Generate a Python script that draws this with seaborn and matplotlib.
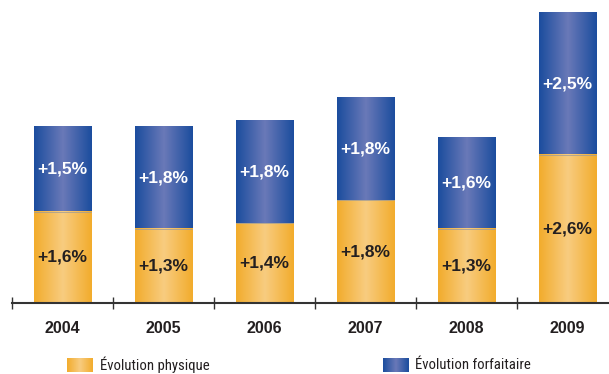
import numpy as np
import pandas as pd
import matplotlib
matplotlib.use("Agg")
import matplotlib.pyplot as plt
import seaborn as sns
from matplotlib.colors import LinearSegmentedColormap
from matplotlib.ticker import FixedLocator
from matplotlib import font_manager

# Data
annees = ["2004", "2005", "2006", "2007", "2008", "2009"]
physique = [1.6, 1.3, 1.4, 1.8, 1.3, 2.6]
forfaitaire = [1.5, 1.8, 1.8, 1.8, 1.6, 2.5]
etiq_physique = ["+1,6%", "+1,3%", "+1,4%", "+1,8%", "+1,3%", "+2,6%"]
etiq_forfaitaire = ["+1,5%", "+1,8%", "+1,8%", "+1,8%", "+1,6%", "+2,5%"]
noms_series = ["Évolution physique", "Évolution forfaitaire"]

JAUNE_BORD, JAUNE_CENTRE = "#F2AC2C", "#F8CC80"
BLEU_BORD, BLEU_CENTRE = "#1B4D9E", "#6A79B8"
TEXTE = "#231F20"

sns.set_theme(style="white")
plt.rcParams["font.family"] = ["Liberation Sans", "DejaVu Sans"]

# Narrow face for the legend, when one is installed
noms_polices = {f.name for f in font_manager.fontManager.ttflist}
etroites = [n for n in ["Liberation Sans Narrow", "DejaVu Sans Condensed",
                        "Roboto Condensed", "Open Sans Condensed"]
            if n in noms_polices]
police_legende = etroites[0] if etroites else "Liberation Sans"
taille_legende = 10.6 if etroites else 10.0

df = pd.DataFrame({
    "annee": annees,
    "physique": physique,
    "total": np.array(physique) + np.array(forfaitaire),
})

fig = plt.figure(figsize=(6.09, 3.74), dpi=100)
ax = fig.add_axes([12 / 609, 71 / 374, 597 / 609, 303 / 374])

largeur = 0.57
sns.barplot(data=df, x="annee", y="total", color=BLEU_BORD, width=largeur,
            saturation=1, ax=ax)
sns.barplot(data=df, x="annee", y="physique", color=JAUNE_BORD, width=largeur,
            saturation=1, ax=ax)


def degrade(bord, centre):
    return LinearSegmentedColormap.from_list("g", [bord, centre, bord])


cmap_bleu = degrade(BLEU_BORD, BLEU_CENTRE)
cmap_jaune = degrade(JAUNE_BORD, JAUNE_CENTRE)
grad = np.linspace(0, 1, 200).reshape(1, -1)

n = len(annees)
barres_total = ax.patches[:n]
barres_phys = ax.patches[n:2 * n]

for pt, pp in zip(barres_total, barres_phys):
    x0, w = pt.get_x(), pt.get_width()
    yb = pp.get_height()
    yt = pt.get_height()
    ax.imshow(grad, extent=[x0, x0 + w, yb, yt], aspect="auto",
              cmap=cmap_bleu, zorder=3, interpolation="bicubic")
    ax.imshow(grad, extent=[x0, x0 + w, 0, yb], aspect="auto",
              cmap=cmap_jaune, zorder=3, interpolation="bicubic")
    ax.plot([x0, x0 + w], [yb, yb], color="#9a9a9a", lw=0.5, zorder=4)

for i, (pp, pt) in enumerate(zip(barres_phys, barres_total)):
    hp, ht = pp.get_height(), pt.get_height()
    ax.text(i, hp / 2, etiq_physique[i], ha="center", va="center",
            fontsize=12.5, fontweight="bold", color=TEXTE, zorder=5)
    ax.text(i, (hp + ht) / 2, etiq_forfaitaire[i], ha="center", va="center",
            fontsize=12.5, fontweight="bold", color="white", zorder=5)

ax.set_xlim(-0.5, 5.41)
ax.set_ylim(0, 5.32)
ax.set_xlabel("")
ax.set_ylabel("")
ax.set_yticks([])

for s in ["top", "right", "left"]:
    ax.spines[s].set_visible(False)
ax.spines["bottom"].set_color("#333333")
ax.spines["bottom"].set_linewidth(1.5)
ax.spines["bottom"].set_zorder(6)

ax.xaxis.set_minor_locator(FixedLocator(np.arange(-0.5, 5.0, 1.0)))
ax.tick_params(axis="x", which="minor", direction="inout", length=8,
               width=1, color="#333333", bottom=True)
ax.tick_params(axis="x", which="major", length=0, pad=13,
               labelsize=11.5, labelcolor=TEXTE)
for lab in ax.get_xticklabels():
    lab.set_fontweight("bold")

# Legend drawn with gradient swatches
for (gauche, cmap, nom, xt) in [
    (67, cmap_jaune, noms_series[0], 100),
    (383, cmap_bleu, noms_series[1], 415),
]:
    sw = fig.add_axes([gauche / 609, 2 / 374, 26 / 609, 14 / 374])
    sw.imshow(grad, aspect="auto", cmap=cmap, interpolation="bicubic")
    sw.set_axis_off()
    fig.text(xt / 609, 9 / 374, nom, ha="left", va="center",
             fontsize=taille_legende, color=TEXTE,
             family=[police_legende, "DejaVu Sans"])

fig.savefig("out.png", dpi=100)
